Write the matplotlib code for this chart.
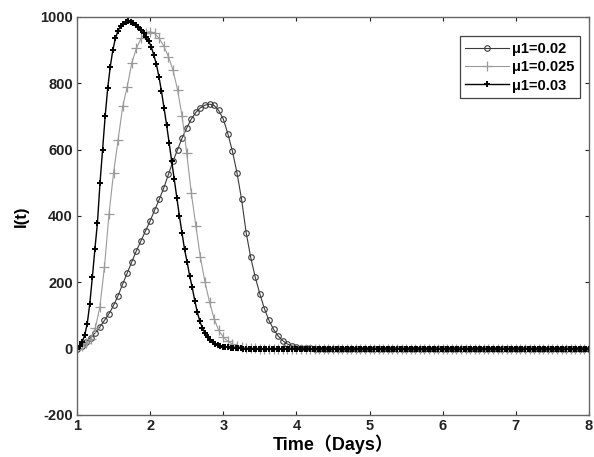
import matplotlib
matplotlib.use('Agg')
import matplotlib.pyplot as plt
import numpy as np

# Время, сутки
t_fast = np.linspace(1, 8, 201)
t_slow = np.linspace(1, 8, 113)

# I(t) для mu1 = 0.02
i_002 = [
    0, 8, 20, 33, 48, 65, 85, 105, 130, 160,
    195, 228, 262, 295, 325, 355, 385, 418, 450, 485,
    525, 565, 600, 635, 665, 692, 712, 726, 734, 737,
    733, 718, 692, 648, 595, 530, 450, 350, 275, 215,
    165, 120, 85, 58, 38, 24, 14, 8, 5, 3,
    2, 1, 0, 0, 0, 0, 0, 0, 0, 0,
    0, 0, 0, 0, 0, 0, 0, 0, 0, 0,
    0, 0, 0, 0, 0, 0, 0, 0, 0, 0,
    0, 0, 0, 0, 0, 0, 0, 0, 0, 0,
    0, 0, 0, 0, 0, 0, 0, 0, 0, 0,
    0, 0, 0, 0, 0, 0, 0, 0, 0, 0,
    0, 0, 0,
]

# I(t) для mu1 = 0.025
i_0025 = [
    0, 8, 16, 28, 62, 125, 245, 405, 530, 630,
    730, 790, 862, 905, 935, 952, 956, 950, 935, 912,
    880, 840, 780, 700, 590, 470, 370, 275, 200, 140,
    90, 55, 35, 22, 14, 9, 5, 3, 2, 1,
    0, 0, 0, 0, 0, 0, 0, 0, 0, 0,
    0, 0, 0, 0, 0, 0, 0, 0, 0, 0,
    0, 0, 0, 0, 0, 0, 0, 0, 0, 0,
    0, 0, 0, 0, 0, 0, 0, 0, 0, 0,
    0, 0, 0, 0, 0, 0, 0, 0, 0, 0,
    0, 0, 0, 0, 0, 0, 0, 0, 0, 0,
    0, 0, 0, 0, 0, 0, 0, 0, 0, 0,
    0, 0, 0,
]

# I(t) для mu1 = 0.03
i_003 = [
    0, 8, 20, 40, 75, 135, 215, 300, 380, 500,
    600, 700, 785, 850, 900, 935, 958, 972, 980, 985,
    987, 986, 983, 977, 970, 960, 950, 938, 928, 910,
    885, 858, 820, 776, 725, 675, 620, 565, 510, 455,
    400, 350, 300, 262, 220, 185, 145, 110, 82, 62,
    47, 36, 27, 20, 15, 11, 8, 6, 5, 4,
    3, 2, 2, 1, 1, 0, 0, 0, 0, 0,
    0, 0, 0, 0, 0, 0, 0, 0, 0, 0,
    0, 0, 0, 0, 0, 0, 0, 0, 0, 0,
    0, 0, 0, 0, 0, 0, 0, 0, 0, 0,
    0, 0, 0, 0, 0, 0, 0, 0, 0, 0,
    0, 0, 0, 0, 0, 0, 0, 0, 0, 0,
    0, 0, 0, 0, 0, 0, 0, 0, 0, 0,
    0, 0, 0, 0, 0, 0, 0, 0, 0, 0,
    0, 0, 0, 0, 0, 0, 0, 0, 0, 0,
    0, 0, 0, 0, 0, 0, 0, 0, 0, 0,
    0, 0, 0, 0, 0, 0, 0, 0, 0, 0,
    0, 0, 0, 0, 0, 0, 0, 0, 0, 0,
    0, 0, 0, 0, 0, 0, 0, 0, 0, 0,
    0, 0, 0, 0, 0, 0, 0, 0, 0, 0,
    0,
]

labels = ['\u03bc1=0.02', '\u03bc1=0.025', '\u03bc1=0.03']
x_ticks = [1, 2, 3, 4, 5, 6, 7, 8]
y_ticks = [-200, 0, 200, 400, 600, 800, 1000]

plt.rcParams['font.family'] = ['Liberation Sans', 'DejaVu Sans']
plt.rcParams['font.weight'] = 'bold'
plt.rcParams['axes.unicode_minus'] = False

fig = plt.figure(figsize=(5.94, 4.57), dpi=100)
ax = fig.add_axes([0.1296, 0.092, 0.862, 0.871])

ax.plot(t_slow, i_002, color='#3a3a3a', lw=0.8, marker='o', ms=4,
        mfc='none', mec='#3a3a3a', mew=0.8, label=labels[0])
ax.plot(t_slow, i_0025, color='#9a9a9a', lw=0.8, marker='+', ms=7,
        mew=0.9, label=labels[1])
ax.plot(t_fast, i_003, color='black', lw=1.0, marker='+', ms=5,
        mew=1.4, label=labels[2])

ax.set_xlim(1, 8)
ax.set_ylim(-200, 1000)
ax.set_xticks(x_ticks)
ax.set_yticks(y_ticks)
ax.tick_params(direction='in', top=True, right=True, length=3,
               labelsize=10.5, colors='#222222', pad=3)
for lbl in ax.get_xticklabels() + ax.get_yticklabels():
    lbl.set_fontweight('bold')
for sp in ax.spines.values():
    sp.set_color('#666666')
    sp.set_linewidth(1.0)

ax.set_xlabel('Time\uff08Days\uff09', fontsize=13, fontweight='bold',
              family=['Liberation Sans', 'Noto Sans CJK SC'], labelpad=1)
ax.set_ylabel('I(t)', fontsize=12, fontweight='bold', labelpad=8)

leg = ax.legend(loc='upper right', bbox_to_anchor=(0.983, 0.952),
                fancybox=False, framealpha=1, edgecolor='#444444',
                fontsize=10.5, handlelength=3.0, handletextpad=0.2,
                borderpad=0.4, labelspacing=0.3, borderaxespad=0)
leg.get_frame().set_linewidth(0.9)
for txt in leg.get_texts():
    txt.set_fontweight('bold')

fig.savefig('out.png', dpi=100)
